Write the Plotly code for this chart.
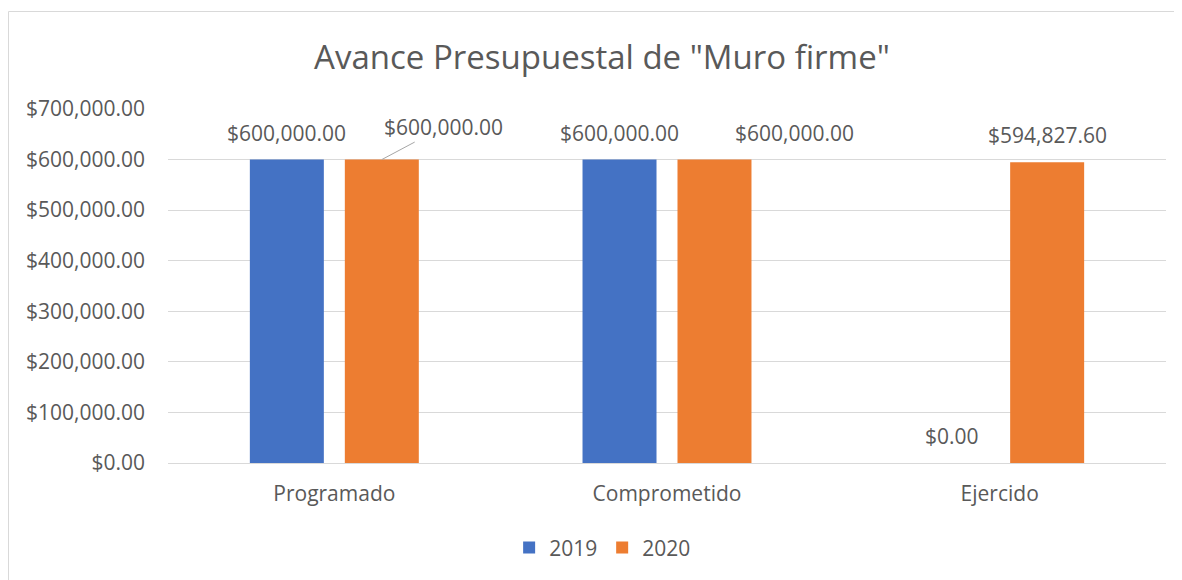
import plotly.graph_objects as go

categories = ["Programado", "Comprometido", "Ejercido"]
series_names = ["2019", "2020"]
values_2019 = [600000.00, 600000.00, 0.00]
values_2020 = [600000.00, 600000.00, 594827.60]
colors = ["#4472C4", "#ED7D31"]
title = 'Avance Presupuestal de "Muro firme"'
y_ticks = [0, 100000, 200000, 300000, 400000, 500000, 600000, 700000]

FONT = "Open Sans, DejaVu Sans, sans-serif"
GRAY = "#595959"
FS = 21
BARGAP = 0.429
BARGROUPGAP = 0.221

def fmt(v):
    return "${:,.2f}".format(v)

fig = go.Figure()
all_series = [values_2019, values_2020]
for name, vals, col in zip(series_names, all_series, colors):
    fig.add_trace(go.Bar(
        x=categories, y=vals, name=name, marker_color=col,
        marker_line_width=0, hoverinfo="x+y+name",
    ))

# data labels positioned at bar centres within each category group
n = len(all_series)
slot = (1 - BARGAP) / n
# label displacements (pixels) as in the original chart: (series, category) -> (dx, dy, leader)
moved = {(1, 0): (62, -33, True), (1, 1): (80, 0, False)}
for si, vals in enumerate(all_series):
    off = -(1 - BARGAP) / 2 + slot * (si + 0.5)
    for ci, v in enumerate(vals):
        dx, dy, leader = moved.get((si, ci), (0, 0, False))
        if leader:
            fig.add_annotation(
                x=ci + off, y=v, xref="x", yref="y", text=fmt(v),
                showarrow=True, arrowhead=0, arrowwidth=1, arrowcolor="#A6A6A6",
                ax=dx, ay=dy, font=dict(family=FONT, size=FS, color=GRAY))
        else:
            fig.add_annotation(
                x=ci + off, y=v, xref="x", yref="y", text=fmt(v),
                showarrow=False, yanchor="middle", xanchor="center",
                xshift=dx, yshift=27 - dy,
                font=dict(family=FONT, size=FS, color=GRAY))

# outer chart border
fig.add_shape(type="rect", xref="paper", yref="paper",
              x0=-0.1598, x1=1.009, y0=-0.40, y1=1.2754,
              line=dict(color="#D9D9D9", width=1), fillcolor="rgba(0,0,0,0)",
              layer="below")

fig.update_layout(
    width=1182, height=580,
    margin=dict(l=160, r=24, t=101, b=125),
    paper_bgcolor="white", plot_bgcolor="white",
    barmode="group", bargap=BARGAP, bargroupgap=BARGROUPGAP,
    title=dict(text=title, x=0.5025, xanchor="center", y=0.9155, yanchor="middle",
               font=dict(family=FONT, size=33, color=GRAY)),
    font=dict(family=FONT, color=GRAY),
    showlegend=True,
    legend=dict(orientation="h", x=0.4355, xanchor="center", y=-0.24, yanchor="middle",
                font=dict(family=FONT, size=FS, color=GRAY), traceorder="normal",
                itemwidth=30),
    yaxis=dict(range=[0, 700000], tickvals=y_ticks,
               ticktext=[fmt(v) for v in y_ticks],
               showgrid=True, gridcolor="#D9D9D9", gridwidth=1,
               zeroline=False, showline=False, ticks="",
               tickfont=dict(family=FONT, size=FS, color=GRAY), ticklabelstandoff=22),
    xaxis=dict(showline=True, linecolor="#D9D9D9", linewidth=1, ticks="",
               tickfont=dict(family=FONT, size=FS, color=GRAY), ticklabelstandoff=12),
)

fig.write_html("out.html")
